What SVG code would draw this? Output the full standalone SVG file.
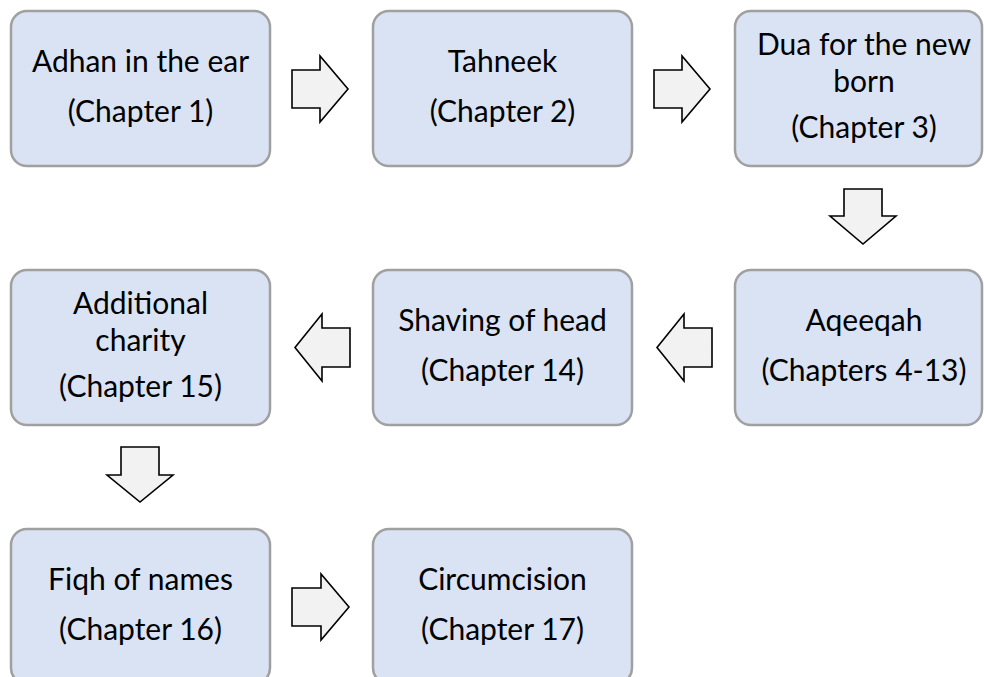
<svg xmlns="http://www.w3.org/2000/svg" width="984" height="677" viewBox="0 0 984 677">
<style>
.box{fill:#DAE3F3;stroke:#A0A0A0;stroke-width:2.5}
.t{font-family:Lato,"Liberation Sans",sans-serif;font-size:30px;fill:#000;text-anchor:middle}
.arr{fill:#F2F2F2;stroke:#000;stroke-width:1.6;stroke-linejoin:miter}
</style>
<rect width="984" height="677" fill="#fff"/>
<g id="n1"><rect class="box" x="11" y="11" width="259" height="155" rx="16"/><text class="t" x="140.5" y="72">Adhan in the ear</text><text class="t" x="140.5" y="122">(Chapter 1)</text></g>
<g id="n2"><rect class="box" x="373" y="11" width="259" height="155" rx="16"/><text class="t" x="502.5" y="72">Tahneek</text><text class="t" x="502.5" y="122">(Chapter 2)</text></g>
<g id="n3"><rect class="box" x="735" y="11" width="247" height="155" rx="16"/><text class="t" x="864" y="55">Dua for the new</text><text class="t" x="864" y="92">born</text><text class="t" x="864" y="138">(Chapter 3)</text></g>
<g id="n4"><rect class="box" x="735" y="270" width="247" height="155" rx="16"/><text class="t" x="864" y="331">Aqeeqah</text><text class="t" x="864" y="381">(Chapters 4-13)</text></g>
<g id="n5"><rect class="box" x="373" y="270" width="259" height="155" rx="16"/><text class="t" x="502.5" y="331">Shaving of head</text><text class="t" x="502.5" y="381">(Chapter 14)</text></g>
<g id="n6"><rect class="box" x="11" y="270" width="259" height="155" rx="16"/><text class="t" x="140.5" y="314">Additional</text><text class="t" x="140.5" y="351">charity</text><text class="t" x="140.5" y="397">(Chapter 15)</text></g>
<g id="n7"><rect class="box" x="11" y="529" width="259" height="155" rx="16"/><text class="t" x="140.5" y="590">Fiqh of names</text><text class="t" x="140.5" y="640">(Chapter 16)</text></g>
<g id="n8"><rect class="box" x="373" y="529" width="259" height="155" rx="16"/><text class="t" x="502.5" y="590">Circumcision</text><text class="t" x="502.5" y="640">(Chapter 17)</text></g>
<g id="connectors">
<path class="arr" d="M292,70 H320 V56 L348,89 L320,122 V108 H292 Z"/>
<path class="arr" d="M654,70 H682 V56 L710,89 L682,122 V108 H654 Z"/>
<path class="arr" d="M844,189 V216 H830 L863,244 L896,216 H882 V189 Z"/>
<path class="arr" d="M712,328 H684 V314 L657,347.5 L684,381 V367 H712 Z"/>
<path class="arr" d="M350,328 H322 V314 L295,347.5 L322,381 V367 H350 Z"/>
<path class="arr" d="M121,447 V475 H107 L140,502 L173,475 H159 V447 Z"/>
<path class="arr" d="M292,588 H321 V574 L349,607 L321,640 V626 H292 Z"/>
</g>
</svg>
